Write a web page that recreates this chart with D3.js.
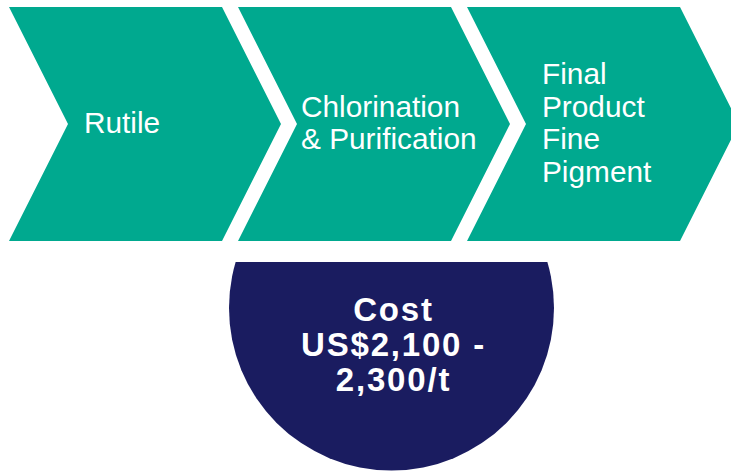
<!DOCTYPE html>
<html>
<head>
<meta charset="utf-8">
<script src="https://cdn.jsdelivr.net/npm/d3@7"></script>
<style>
    html, body { margin: 0; padding: 0; background: #fff; }
    svg { display: block; }
</style>
</head>
<body>
<div id="chart"></div>
<script>
// Process stages, one entry per chevron (each entry is the lines of its label)
const stages = [
    ["Rutile"],
    ["Chlorination", "& Purification"],
    ["Final", "Product", "Fine", "Pigment"]
];
const costLines = ["Cost", "US$2,100 -", "2,300/t"];

const width = 731, height = 471;
const teal = "#00a98f", navy = "#1a1c60";

const svg = d3.select("#chart").append("svg")
              .attr("width", width)
              .attr("height", height)
              .style("font-family", "'Liberation Sans', Arial, sans-serif");

// chevron layout
const chevTop = 7, chevBottom = 241, chevBody = 213, chevDepth = 59;
const chevMid = (chevTop + chevBottom) / 2;
const x = d3.scaleLinear().domain([0, 1]).range([9, 238]);
const labelDx = [75, 63, 75];
const lineHeight = 32.5;

function chevronPath(x0) {
    const p = d3.path();
    p.moveTo(x0, chevTop);
    p.lineTo(x0 + chevBody, chevTop);
    p.lineTo(x0 + chevBody + chevDepth, chevMid);
    p.lineTo(x0 + chevBody, chevBottom);
    p.lineTo(x0, chevBottom);
    p.lineTo(x0 + chevDepth, chevMid);
    p.closePath();
    return p.toString();
}

const chevrons = svg.append("g")
                    .attr("class", "chevrons")
                    .selectAll(".stage")
                    .data(stages)
                    .enter()
                    .append("g")
                    .attr("class", "stage");

chevrons.append("path")
        .attr("d", (d, i) => chevronPath(x(i)))
        .style("fill", teal);

chevrons.each((d, i, nodes) => {
    const text = d3.select(nodes[i]).append("text")
                   .style("fill", "#fff")
                   .style("font-size", "29.8px");
    text.selectAll("tspan")
        .data(d)
        .enter()
        .append("tspan")
        .attr("x", x(i) + labelDx[i])
        .attr("y", (l, k) => chevMid + (k - (d.length - 1) / 2) * lineHeight + 9)
        .text(l => l);
});

// cost circle, clipped flat along the top
const cx = 391.5, cy = 308, r = 162.5, clipTop = 262;

svg.append("clipPath")
   .attr("id", "cost-clip")
   .append("rect")
   .attr("x", 0)
   .attr("y", clipTop)
   .attr("width", width)
   .attr("height", height - clipTop);

svg.append("circle")
   .attr("cx", cx)
   .attr("cy", cy)
   .attr("r", r)
   .attr("clip-path", "url(#cost-clip)")
   .style("fill", navy);

// the reference lettering is slightly spaced out, so a touch of letter-spacing
svg.append("text")
   .attr("text-anchor", "middle")
   .style("fill", "#fff")
   .style("font-size", "33px")
   .style("font-weight", "bold")
   .style("letter-spacing", "1.8px")
   .selectAll("tspan")
   .data(costLines)
   .enter()
   .append("tspan")
   .attr("x", cx + 2)
   .attr("y", (d, i) => 321 + i * 35)
   .text(d => d);
</script>
</body>
</html>
